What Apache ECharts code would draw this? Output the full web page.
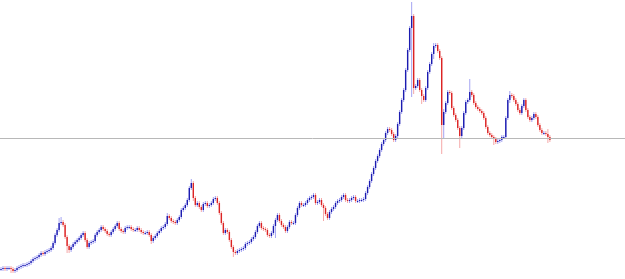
<!DOCTYPE html>
<html>
<head>
<meta charset="utf-8">
<script src="https://cdn.jsdelivr.net/npm/echarts@6/dist/echarts.min.js"></script>
<style>
  html, body { margin: 0; padding: 0; background: #fff; }
  #chart { width: 625px; height: 279px; }
</style>
</head>
<body>
<div id="chart"></div>
<script>
// closing prices left to right
const closes = [
  10, 11, 10, 11, 11, 10, 8, 9, 11, 12,
  13, 14, 14, 15, 16, 18, 20, 21, 22, 24,
  26, 25, 27, 28, 29, 31, 36, 44, 49, 56,
  57, 54, 42, 33, 29, 32, 35, 37, 39, 41,
  44, 46, 39, 32, 36, 37, 38, 44, 47, 49,
  52, 50, 48, 45, 44, 47, 50, 53, 56, 50,
  48, 47, 51, 52, 52, 50, 49, 49, 51, 49,
  47, 46, 46, 47, 44, 38, 41, 43, 46, 48,
  51, 52, 55, 63, 61, 58, 57, 56, 59, 62,
  69, 71, 74, 79, 91, 96, 81, 74, 76, 72,
  69, 75, 76, 73, 74, 76, 80, 81, 76, 66,
  56, 46, 49, 47, 39, 32, 27, 26, 28, 29,
  30, 31, 35, 36, 37, 40, 42, 47, 53, 56,
  51, 50, 49, 44, 43, 46, 53, 59, 64, 58,
  54, 52, 48, 52, 57, 56, 56, 64, 71, 76,
  74, 74, 76, 79, 81, 82, 84, 76, 77, 79,
  74, 71, 65, 61, 67, 70, 72, 76, 78, 79,
  82, 84, 79, 78, 79, 81, 82, 78, 78, 79,
  79, 80, 86, 92, 98, 105, 111, 118, 123, 129,
  135, 139, 146, 150, 149, 145, 139, 143, 155, 167,
  179, 189, 209, 229, 251, 263, 191, 193, 199, 189,
  183, 179, 191, 207, 215, 225, 233, 234, 228, 221,
  154, 167, 176, 187, 186, 171, 164, 159, 151, 143,
  151, 166, 177, 179, 187, 184, 176, 172, 170, 168,
  166, 161, 152, 146, 144, 142, 140, 137, 138, 139,
  142, 142, 161, 179, 184, 183, 179, 175, 169, 166,
  173, 179, 169, 162, 159, 161, 165, 162, 154, 149,
  146, 146, 145, 142, 139
];

// notable wick tips: candle index -> [low, high]
const wicks = {
  5: [6, 12], 29: [55, 61], 30: [54, 62], 33: [26, 35], 34: [26, 33],
  75: [35, 43], 83: [55, 66], 95: [90, 100], 96: [78, 97],
  116: [22, 29], 117: [24, 28], 137: [41, 58], 161: [58, 72],
  205: [182, 277], 206: [185, 192], 210: [175, 190],
  216: [220, 236], 220: [125, 222], 221: [140, 170],
  229: [131, 150], 234: [180, 200], 246: [134, 142],
  254: [176, 188], 273: [136, 150]
};

const lastPrice = 141;
const slots = 312;

const cats = [];
for (let i = 0; i < slots; i++) cats.push(i);

// [index, open, close, low, high]
const candles = closes.map((c, i) => {
  const o = i === 0 ? c : closes[i - 1];
  let lo = Math.min(o, c) - 2;
  let hi = Math.max(o, c) + 2;
  if (wicks[i]) {
    lo = Math.min(lo, wicks[i][0]);
    hi = Math.max(hi, wicks[i][1]);
  }
  return [i, o, c, lo, hi];
});

function renderCandle(params, api) {
  const i = api.value(0);
  const o = api.value(1), c = api.value(2);
  const pO = api.coord([i, o]);
  const pC = api.coord([i, c]);
  const pL = api.coord([i, api.value(3)]);
  const pH = api.coord([i, api.value(4)]);
  const up = c >= o;
  const x = pO[0];
  const top = Math.min(pO[1], pC[1]);
  const h = Math.max(1, Math.abs(pO[1] - pC[1]));
  return {
    type: 'group',
    children: [
      {
        type: 'line',
        shape: { x1: x, y1: pH[1], x2: x, y2: pL[1] },
        style: { stroke: up ? '#a4a4f2' : '#f5a8a8', lineWidth: 1 }
      },
      {
        type: 'rect',
        shape: { x: x - 0.7, y: top, width: 1.4, height: h },
        style: { fill: up ? '#1c1cb0' : '#dc2424' }
      }
    ]
  };
}

const chart = echarts.init(document.getElementById('chart'));
chart.setOption({
  animation: false,
  grid: { left: 0, right: 0, top: 0, bottom: 0 },
  xAxis: {
    type: 'category',
    data: cats,
    show: false
  },
  yAxis: {
    type: 'value',
    min: 0,
    max: 279,
    show: false,
    splitLine: { show: false }
  },
  series: [{
    type: 'custom',
    data: candles,
    encode: { x: 0, y: [1, 2, 3, 4] },
    renderItem: renderCandle,
    markLine: {
      silent: true,
      symbol: ['none', 'none'],
      label: { show: false },
      lineStyle: { color: '#b8b8b8', width: 1, type: 'solid' },
      data: [{ yAxis: lastPrice }]
    }
  }]
});
</script>
</body>
</html>
